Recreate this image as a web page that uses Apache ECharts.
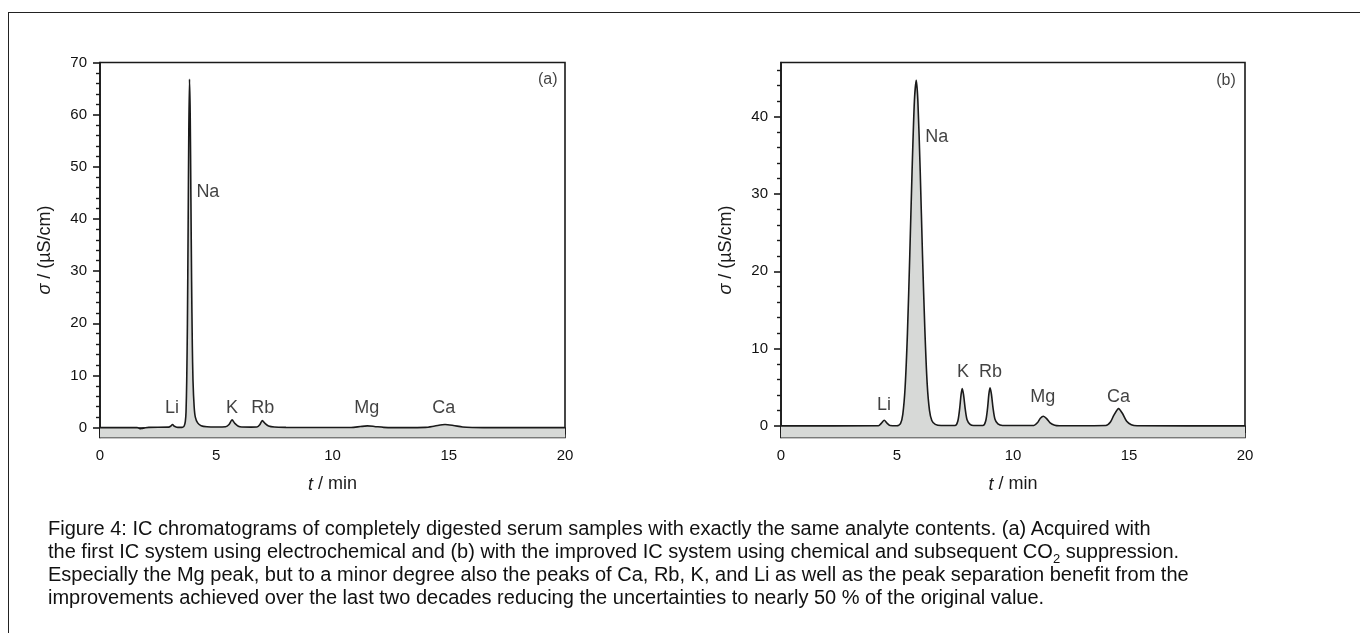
<!DOCTYPE html>
<html>
<head>
<meta charset="utf-8">
<script src="https://cdn.jsdelivr.net/npm/echarts@6/dist/echarts.min.js"></script>
<style>
  html, body { margin: 0; padding: 0; background: #fff; }
  #wrap { position: relative; width: 1360px; height: 633px; overflow: hidden; }
  #frame { position: absolute; left: 8px; top: 12px; right: -4px; bottom: -4px;
           border-top: 1.5px solid #222; border-left: 1.5px solid #222; }
  #chart { position: absolute; left: 0; top: 0; width: 1360px; height: 633px; }
  #caption { position: absolute; left: 48px; top: 517px; font-family: 'Liberation Sans', Arial, sans-serif;
             font-size: 20px; line-height: 23px; color: #111; white-space: nowrap; }
  #caption sub { font-size: 13px; line-height: 0; }
</style>
</head>
<body>
<div id="wrap">
  <div id="frame"></div>
  <div id="chart"></div>
  <div id="caption">Figure 4: IC chromatograms of completely digested serum samples with exactly the same analyte contents. (a) Acquired with<br>the first IC system using electrochemical and (b) with the improved IC system using chemical and subsequent CO<sub>2</sub> suppression.<br>Especially the Mg peak, but to a minor degree also the peaks of Ca, Rb, K, and Li as well as the peak separation benefit from the<br>improvements achieved over the last two decades reducing the uncertainties to nearly 50 % of the original value.</div>
</div>
<script>
// ---- Data: chromatogram (a) ----
const timeA = [0, 1.0, 1.6, 1.72, 1.8, 1.95, 2.1, 2.95, 3.05, 3.12, 3.2, 3.3, 3.45, 3.55, 3.62, 3.67, 3.70, 3.73, 3.76, 3.79, 3.82, 3.85, 3.88, 3.91, 3.94, 3.97, 4.00, 4.05, 4.10, 4.20, 4.35, 4.6, 5.0, 5.4, 5.55, 5.68, 5.8, 5.95, 6.1, 6.5, 6.75, 6.88, 6.98, 7.1, 7.25, 7.5, 8.0, 10.8, 11.2, 11.5, 11.8, 12.2, 12.6, 14.0, 14.4, 14.84, 15.2, 15.6, 16.0, 16.5, 20];
const signalA = [0, 0, 0, -0.2, -0.15, -0.03, 0.05, 0.08, 0.3, 0.6, 0.25, 0.08, 0.05, 0.08, 0.3, 1.2, 3, 9, 20, 38, 57, 66.8, 60, 44, 28, 16, 9, 4, 2, 0.9, 0.35, 0.15, 0.1, 0.15, 0.6, 1.48, 0.8, 0.25, 0.1, 0.08, 0.1, 0.6, 1.35, 0.8, 0.3, 0.1, 0.05, 0.02, 0.2, 0.32, 0.22, 0.05, 0, 0.05, 0.3, 0.58, 0.4, 0.12, 0.02, 0, 0];

// ---- Data: chromatogram (b) ----
const timeB = [0, 4.2, 4.33, 4.45, 4.57, 4.7, 5.0, 5.15, 5.25, 5.35, 5.45, 5.55, 5.65, 5.75, 5.83, 5.9, 6.0, 6.1, 6.2, 6.3, 6.4, 6.5, 6.65, 6.9, 7.5, 7.62, 7.7, 7.76, 7.81, 7.87, 7.94, 8.02, 8.15, 8.3, 8.7, 8.82, 8.9, 8.96, 9.01, 9.07, 9.14, 9.22, 9.35, 9.55, 10.9, 11.05, 11.18, 11.31, 11.45, 11.6, 11.8, 12.0, 14.0, 14.2, 14.35, 14.55, 14.72, 14.9, 15.1, 15.35, 20];
const signalB = [0, 0.02, 0.35, 0.73, 0.35, 0.05, 0.02, 0.3, 1.5, 5, 12, 22, 33, 42, 44.7, 42, 33, 22, 12.5, 5.5, 2, 0.7, 0.2, 0.05, 0.05, 0.6, 2.2, 4, 4.83, 4, 2.2, 0.8, 0.2, 0.05, 0.05, 0.6, 2.2, 4.1, 4.92, 4.1, 2.3, 0.9, 0.25, 0.05, 0.05, 0.4, 1.0, 1.25, 0.95, 0.4, 0.08, 0.02, 0.05, 0.5, 1.4, 2.24, 1.6, 0.6, 0.15, 0.02, 0];

// ---- Peak labels ----
const peakNamesA = ['Li', 'Na', 'K', 'Rb', 'Mg', 'Ca'];
const peakLabelXA = [3.1, 4.64, 5.68, 7.0, 11.47, 14.78];
const peakLabelYA = [3.8, 45.2, 3.8, 3.8, 3.8, 3.8];
const peakNamesB = ['Li', 'Na', 'K', 'Rb', 'Mg', 'Ca'];
const peakLabelXB = [4.44, 6.71, 7.84, 9.03, 11.28, 14.55];
const peakLabelYB = [2.68, 37.3, 6.99, 6.99, 3.67, 3.67];
const panelNames = ['(a)', '(b)'];
const panelLabelX = [19.26, 19.18];
const panelLabelY = [66.7, 44.7];

// ---- Axis ticks ----
const xTicks = [0, 5, 10, 15, 20];
const yMajorA = [0, 10, 20, 30, 40, 50, 60, 70];
const yMinorA = [2, 4, 6, 8, 12, 14, 16, 18, 22, 24, 26, 28, 32, 34, 36, 38, 42, 44, 46, 48, 52, 54, 56, 58, 62, 64, 66, 68];
const yMajorB = [0, 10, 20, 30, 40];
const yMinorB = [2, 4, 6, 8, 12, 14, 16, 18, 22, 24, 26, 28, 32, 34, 36, 38, 42, 44, 46];

const FONT = "'Liberation Sans', Arial, sans-serif";
const INK = '#1a1a1a';

function pairs(xs, ys) { return xs.map((x, i) => [x, ys[i]]); }
function labelData(xs, ys, names) { return xs.map((x, i) => [x, ys[i], names[i]]); }

function xAxisFor(gi) {
  return {
    type: 'value', gridIndex: gi, min: 0, max: 20, interval: 5,
    name: '{i|t} / min', nameLocation: 'middle', nameGap: 38,
    nameTextStyle: { fontFamily: FONT, fontSize: 18, color: INK,
      rich: { i: { fontStyle: 'italic', fontFamily: FONT, fontSize: 18, color: INK } } },
    axisLine: { show: true, lineStyle: { color: INK, width: 1.6 } },
    axisTick: { show: true, length: 7, lineStyle: { color: INK, width: 1.6 } },
    minorTick: { show: true, splitNumber: 5, length: 4, lineStyle: { color: INK, width: 1.4 } },
    axisLabel: { fontFamily: FONT, fontSize: 15, color: '#111', margin: 11,
      customValues: xTicks },
    splitLine: { show: false }
  };
}
function yMajor(gi, min, max, ticks) {
  return {
    type: 'value', gridIndex: gi, min: min, max: max, position: 'left',
    name: '{i|σ} / (µS/cm)', nameLocation: 'middle', nameGap: 46,
    nameTextStyle: { fontFamily: FONT, fontSize: 18, color: INK,
      rich: { i: { fontStyle: 'italic', fontFamily: FONT, fontSize: 18, color: INK } } },
    axisLine: { show: true, lineStyle: { color: INK, width: 1.6 } },
    axisTick: { show: true, length: 7, customValues: ticks, lineStyle: { color: INK, width: 1.6 } },
    axisLabel: { fontFamily: FONT, fontSize: 15, color: '#111', margin: 13, customValues: ticks },
    splitLine: { show: false }
  };
}
function yMinor(gi, min, max, ticks) {
  return {
    type: 'value', gridIndex: gi, min: min, max: max, position: 'left',
    axisLine: { show: false },
    axisTick: { show: true, length: 4, customValues: ticks, lineStyle: { color: INK, width: 1.4 } },
    axisLabel: { show: false },
    splitLine: { show: false }
  };
}
function traceSeries(xi, yi, data) {
  return {
    type: 'line', xAxisIndex: xi, yAxisIndex: yi, data: data,
    showSymbol: false, symbol: 'none', smooth: 0.25, silent: true,
    lineStyle: { color: INK, width: 1.6 },
    areaStyle: { color: '#d7d9d7', opacity: 1, origin: 'start' },
    z: 2
  };
}
function labelSeries(xi, yi, data, size) {
  return {
    type: 'scatter', xAxisIndex: xi, yAxisIndex: yi, data: data, silent: true,
    symbolSize: 1, itemStyle: { color: 'rgba(0,0,0,0)' },
    label: { show: true, position: 'inside', formatter: p => p.value[2],
      fontFamily: FONT, fontSize: size, color: '#111' },
    z: 5
  };
}

const chart = echarts.init(document.getElementById('chart'), null, { renderer: 'canvas' });
chart.setOption({
  animation: false,
  backgroundColor: 'transparent',
  grid: [
    { left: 100, top: 62.5, width: 465, height: 375, show: true, borderColor: INK, borderWidth: 1.6, backgroundColor: 'transparent', containLabel: false },
    { left: 781, top: 62.5, width: 464, height: 375, show: true, borderColor: INK, borderWidth: 1.6, backgroundColor: 'transparent', containLabel: false }
  ],
  xAxis: [xAxisFor(0), xAxisFor(1)],
  yAxis: [
    yMajor(0, -1.9, 70, yMajorA), yMinor(0, -1.9, 70, yMinorA),
    yMajor(1, -1.5, 47, yMajorB), yMinor(1, -1.5, 47, yMinorB)
  ],
  series: [
    traceSeries(0, 0, pairs(timeA, signalA)),
    traceSeries(1, 2, pairs(timeB, signalB)),
    labelSeries(0, 0, labelData(peakLabelXA, peakLabelYA, peakNamesA), 18),
    labelSeries(1, 2, labelData(peakLabelXB, peakLabelYB, peakNamesB), 18),
    labelSeries(0, 0, [[panelLabelX[0], panelLabelY[0], panelNames[0]]], 16),
    labelSeries(1, 2, [[panelLabelX[1], panelLabelY[1], panelNames[1]]], 16)
  ]
});
</script>
</body>
</html>
